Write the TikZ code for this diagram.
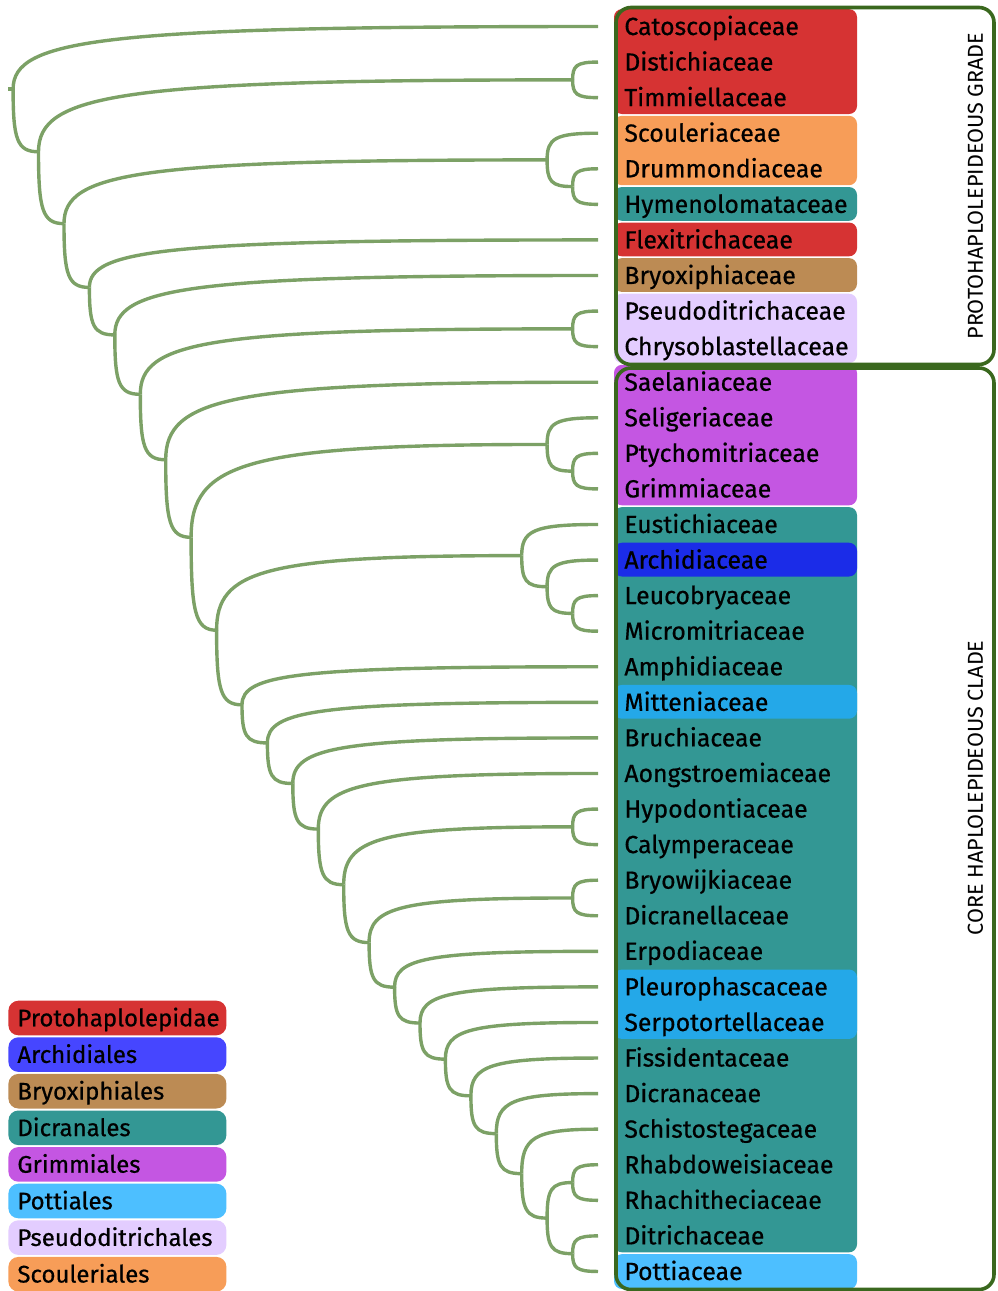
\documentclass[tikz,border=0pt]{standalone}
\usepackage{fontspec}
\setmainfont{Fira Sans}
\newfontfamily\taxfam{Fira Sans}[FakeBold=0.6]
\usepackage{xcolor}
\usetikzlibrary{calc}
\definecolor{twig}{RGB}{124,161,102}
\definecolor{grpgreen}{RGB}{58,104,30}
\definecolor{cRed}{RGB}{214,51,51}
\definecolor{cOrange}{RGB}{247,157,88}
\definecolor{cTeal}{RGB}{51,151,148}
\definecolor{cBrown}{RGB}{188,139,84}
\definecolor{cLav}{RGB}{227,205,255}
\definecolor{cPurple}{RGB}{196,86,226}
\definecolor{cBlue}{RGB}{27,44,232}
\definecolor{cBlueKey}{RGB}{70,70,255}
\definecolor{cSky}{RGB}{36,168,232}
\definecolor{cSkyKey}{RGB}{77,191,255}
\newcommand{\leaffont}{\taxfam\fontsize{12.4pt}{14pt}\selectfont}
\newcommand{\keyfont}{\taxfam\fontsize{12pt}{14pt}\selectfont}
\newcommand{\sidefont}{\fontsize{10.8pt}{13pt}\selectfont}

\begin{document}
\begin{tikzpicture}[x=0.5pt,y=-0.5pt,
  branch/.style={draw=twig,line width=1.7pt,
    to path={.. controls ($(\tikztostart)!.8!(\tikztostart|-\tikztotarget)$)
      and ($(\tikztostart|-\tikztotarget)!.15!(\tikztotarget)$) .. (\tikztotarget)}},
  leaf/.style={anchor=west,inner xsep=13pt,inner ysep=0pt,
               text height=8.5pt,text depth=0pt,font=\leaffont},
  band/.style={rounded corners=4pt},
  grp/.style={draw=grpgreen,line width=1.8pt,rounded corners=7.5pt},
  side/.style={rotate=90,font=\sidefont},
  lgd/.style={anchor=west,rounded corners=5pt,text width=100pt,align=left,
              inner xsep=4.5pt,minimum height=17.3pt,text height=8.3pt,
              text depth=0pt,font=\keyfont}]
\useasboundingbox (0,0) rectangle (997,1291);
\fill[band,cRed] (614,9.1) rectangle (857,114);
\fill[band,cOrange] (614,115.8) rectangle (857,185.2);
\fill[band,cTeal] (614,187) rectangle (857,220.8);
\fill[band,cRed] (614,222.5) rectangle (857,256.3);
\fill[band,cBrown] (614,258.1) rectangle (857,291.9);
\fill[band,cLav] (614,293.7) rectangle (857,363);
\fill[band,cPurple] (614,364.8) rectangle (857,505.3);
\fill[band,cTeal] (614,507.1) rectangle (857,1252.3);
\fill[band,cBlue] (614,542.7) rectangle (857,576.5);
\fill[band,cSky] (614,684.9) rectangle (857,718.7);
\fill[band,cSky] (614,969.5) rectangle (857,1038.9);
\fill[band,cSkyKey] (614,1254.1) rectangle (857,1289);
\node[leaf] (catos) at (598,26.5) {Catoscopiaceae};
\node[leaf] (distich) at (598,62.07) {Distichiaceae};
\node[leaf] (timm) at (598,97.64) {Timmiellaceae};
\node[leaf] (scoul) at (598,133.21) {Scouleriaceae};
\node[leaf] (drumm) at (598,168.78) {Drummondiaceae};
\node[leaf] (hymen) at (598,204.35) {Hymenolomataceae};
\node[leaf] (flexi) at (598,239.92) {Flexitrichaceae};
\node[leaf] (bryox) at (598,275.49) {Bryoxiphiaceae};
\node[leaf] (pseudo) at (598,311.06) {Pseudoditrichaceae};
\node[leaf] (chryso) at (598,346.63) {Chrysoblastellaceae};
\node[leaf] (saelan) at (598,382.2) {Saelaniaceae};
\node[leaf] (seliger) at (598,417.77) {Seligeriaceae};
\node[leaf] (ptycho) at (598,453.34) {Ptychomitriaceae};
\node[leaf] (grimm) at (598,488.91) {Grimmiaceae};
\node[leaf] (eustich) at (598,524.48) {Eustichiaceae};
\node[leaf] (archid) at (598,560.05) {Archidiaceae};
\node[leaf] (leucob) at (598,595.62) {Leucobryaceae};
\node[leaf] (micromit) at (598,631.19) {Micromitriaceae};
\node[leaf] (amphid) at (598,666.76) {Amphidiaceae};
\node[leaf] (mitten) at (598,702.33) {Mitteniaceae};
\node[leaf] (bruch) at (598,737.9) {Bruchiaceae};
\node[leaf] (aongs) at (598,773.47) {Aongstroemiaceae};
\node[leaf] (hypod) at (598,809.04) {Hypodontiaceae};
\node[leaf] (calymp) at (598,844.61) {Calymperaceae};
\node[leaf] (bryow) at (598,880.18) {Bryowijkiaceae};
\node[leaf] (dicranell) at (598,915.75) {Dicranellaceae};
\node[leaf] (erpod) at (598,951.32) {Erpodiaceae};
\node[leaf] (pleuro) at (598,986.89) {Pleurophascaceae};
\node[leaf] (serpo) at (598,1022.46) {Serpotortellaceae};
\node[leaf] (fissid) at (598,1058.03) {Fissidentaceae};
\node[leaf] (dicran) at (598,1093.6) {Dicranaceae};
\node[leaf] (schisto) at (598,1129.17) {Schistostegaceae};
\node[leaf] (rhabdo) at (598,1164.74) {Rhabdoweisiaceae};
\node[leaf] (rhachi) at (598,1200.31) {Rhachitheciaceae};
\node[leaf] (ditrich) at (598,1235.88) {Ditrichaceae};
\node[leaf] (pott) at (598,1271.45) {Pottiaceae};
\coordinate (root) at (8,89.13);
\coordinate (s1) at (13.1,89.13);
\coordinate (s2) at (38.5,151.75);
\coordinate (s3) at (64,223.65);
\coordinate (s4) at (89.4,287.41);
\coordinate (s5) at (114.8,334.9);
\coordinate (s6) at (140.3,394.3);
\coordinate (s7) at (165.7,459.77);
\coordinate (s8) at (191.1,537.33);
\coordinate (s9) at (216.6,630.22);
\coordinate (s10) at (242,704.83);
\coordinate (s11) at (267.4,742.91);
\coordinate (s12) at (292.8,783.49);
\coordinate (s13) at (318.3,829.08);
\coordinate (s14) at (343.7,884.7);
\coordinate (s15) at (369.1,942.57);
\coordinate (s16) at (394.6,987.17);
\coordinate (s17) at (420,1023.02);
\coordinate (s18) at (445.4,1059.14);
\coordinate (s19) at (470.9,1095.82);
\coordinate (s20) at (496.3,1133.62);
\coordinate (s21) at (521.7,1173.63);
\coordinate (s22) at (547.1,1218.1);
\coordinate (dt) at (572.6,79.86);
\coordinate (sdh) at (547.1,159.89);
\coordinate (dh) at (572.6,186.57);
\coordinate (pc) at (572.6,328.85);
\coordinate (spg) at (547.1,444.45);
\coordinate (pg) at (572.6,471.13);
\coordinate (eal) at (521.7,555.6);
\coordinate (al) at (547.1,586.72);
\coordinate (lm) at (572.6,613.41);
\coordinate (hc) at (572.6,826.83);
\coordinate (bd) at (572.6,897.97);
\coordinate (rr) at (572.6,1182.53);
\coordinate (dp) at (572.6,1253.67);
\draw[branch] (root) -- (s1);
\draw[branch] (s1) to (catos.west);
\draw[branch] (s1) to (s2);
\draw[branch] (s2) to (dt);
\draw[branch] (s2) to (s3);
\draw[branch] (dt) to (distich.west);
\draw[branch] (dt) to (timm.west);
\draw[branch] (s3) to (sdh);
\draw[branch] (s3) to (s4);
\draw[branch] (sdh) to (scoul.west);
\draw[branch] (sdh) to (dh);
\draw[branch] (dh) to (drumm.west);
\draw[branch] (dh) to (hymen.west);
\draw[branch] (s4) to (flexi.west);
\draw[branch] (s4) to (s5);
\draw[branch] (s5) to (bryox.west);
\draw[branch] (s5) to (s6);
\draw[branch] (s6) to (pc);
\draw[branch] (s6) to (s7);
\draw[branch] (pc) to (pseudo.west);
\draw[branch] (pc) to (chryso.west);
\draw[branch] (s7) to (saelan.west);
\draw[branch] (s7) to (s8);
\draw[branch] (s8) to (spg);
\draw[branch] (s8) to (s9);
\draw[branch] (spg) to (seliger.west);
\draw[branch] (spg) to (pg);
\draw[branch] (pg) to (ptycho.west);
\draw[branch] (pg) to (grimm.west);
\draw[branch] (s9) to (eal);
\draw[branch] (s9) to (s10);
\draw[branch] (eal) to (eustich.west);
\draw[branch] (eal) to (al);
\draw[branch] (al) to (archid.west);
\draw[branch] (al) to (lm);
\draw[branch] (lm) to (leucob.west);
\draw[branch] (lm) to (micromit.west);
\draw[branch] (s10) to (amphid.west);
\draw[branch] (s10) to (s11);
\draw[branch] (s11) to (mitten.west);
\draw[branch] (s11) to (s12);
\draw[branch] (s12) to (bruch.west);
\draw[branch] (s12) to (s13);
\draw[branch] (s13) to (aongs.west);
\draw[branch] (s13) to (s14);
\draw[branch] (s14) to (hc);
\draw[branch] (s14) to (s15);
\draw[branch] (hc) to (hypod.west);
\draw[branch] (hc) to (calymp.west);
\draw[branch] (s15) to (bd);
\draw[branch] (s15) to (s16);
\draw[branch] (bd) to (bryow.west);
\draw[branch] (bd) to (dicranell.west);
\draw[branch] (s16) to (erpod.west);
\draw[branch] (s16) to (s17);
\draw[branch] (s17) to (pleuro.west);
\draw[branch] (s17) to (s18);
\draw[branch] (s18) to (serpo.west);
\draw[branch] (s18) to (s19);
\draw[branch] (s19) to (fissid.west);
\draw[branch] (s19) to (s20);
\draw[branch] (s20) to (dicran.west);
\draw[branch] (s20) to (s21);
\draw[branch] (s21) to (schisto.west);
\draw[branch] (s21) to (s22);
\draw[branch] (s22) to (rr);
\draw[branch] (s22) to (dp);
\draw[branch] (rr) to (rhabdo.west);
\draw[branch] (rr) to (rhachi.west);
\draw[branch] (dp) to (ditrich.west);
\draw[branch] (dp) to (pott.west);
\draw[grp] (616,7.5) rectangle (994,364.5);
\draw[grp] (616,368) rectangle (994,1289.5);
\node[side] (gradelab) at (975.5,186) {PROTOHAPLOLEPIDEOUS GRADE};
\node[side] (cladelab) at (975.5,788) {CORE HAPLOLEPIDEOUS CLADE};
\node[lgd,fill=cRed] (kproto) at (8,1018) {Protohaplolepidae};
\node[lgd,fill=cBlueKey] (karchid) at (8,1054.6) {Archidiales};
\node[lgd,fill=cBrown] (kbryox) at (8,1091.2) {Bryoxiphiales};
\node[lgd,fill=cTeal] (kdicran) at (8,1127.8) {Dicranales};
\node[lgd,fill=cPurple] (kgrimm) at (8,1164.4) {Grimmiales};
\node[lgd,fill=cSkyKey] (kpott) at (8,1201) {Pottiales};
\node[lgd,fill=cLav] (kpseudo) at (8,1237.6) {Pseudoditrichales};
\node[lgd,fill=cOrange] (kscoul) at (8,1274.2) {Scouleriales};
\end{tikzpicture}
\end{document}
